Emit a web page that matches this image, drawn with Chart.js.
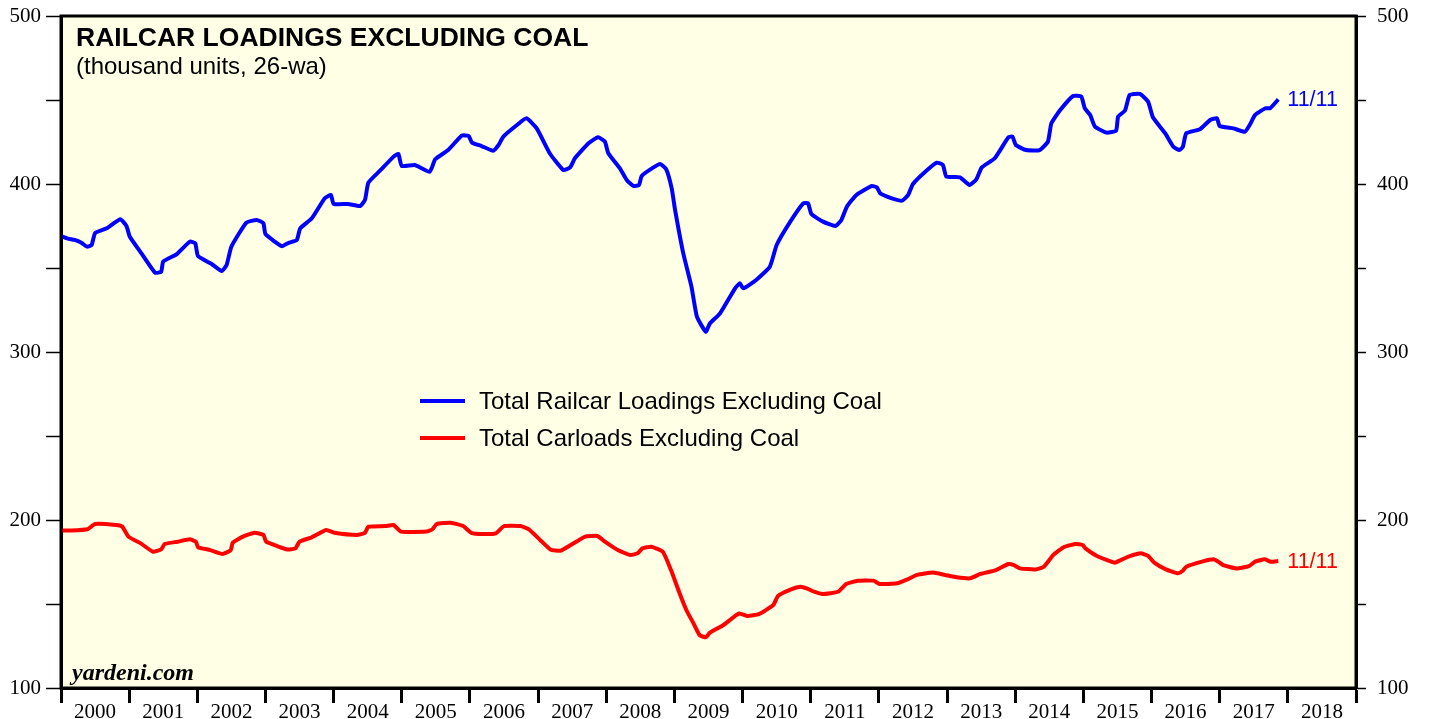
<!DOCTYPE html>
<html>
<head>
<meta charset="utf-8">
<script src="https://cdn.jsdelivr.net/npm/chart.js@4.4.1/dist/chart.umd.min.js"></script>
<style>
  html, body { margin: 0; padding: 0; background: #ffffff; }
  canvas { display: block; }
</style>
</head>
<body>
<canvas id="railChart" width="1429" height="719"></canvas>
<script>
// weekly data (decimal year, thousand units, 26-wa)
const railcarYears = [2000.0, 2000.1, 2000.2, 2000.3, 2000.38, 2000.45, 2000.5, 2000.67, 2000.87, 2000.96,
  2001.01, 2001.18, 2001.38, 2001.47, 2001.5, 2001.7, 2001.89, 2001.97, 2002.01, 2002.21, 2002.36, 2002.43,
  2002.5, 2002.72, 2002.87, 2002.97, 2003.0, 2003.24, 2003.34, 2003.46, 2003.51, 2003.68, 2003.87, 2003.96,
  2004.0, 2004.21, 2004.39, 2004.46, 2004.51, 2004.68, 2004.88, 2004.95, 2005.0, 2005.19, 2005.41, 2005.49,
  2005.68, 2005.88, 2005.98, 2006.03, 2006.17, 2006.34, 2006.42, 2006.49, 2006.69, 2006.83, 2006.98, 2007.17,
  2007.37, 2007.47, 2007.54, 2007.74, 2007.88, 2007.98, 2008.03, 2008.2, 2008.3, 2008.4, 2008.48, 2008.52,
  2008.67, 2008.79, 2008.88, 2008.96, 2009.01, 2009.13, 2009.25, 2009.33, 2009.46, 2009.52, 2009.67, 2009.89,
  2009.96, 2010.01, 2010.2, 2010.4, 2010.5, 2010.7, 2010.89, 2010.96, 2011.01, 2011.18, 2011.36, 2011.45,
  2011.53, 2011.67, 2011.89, 2011.97, 2012.02, 2012.19, 2012.34, 2012.43, 2012.5, 2012.68, 2012.85, 2012.94,
  2012.99, 2013.19, 2013.33, 2013.43, 2013.51, 2013.7, 2013.9, 2013.96, 2014.01, 2014.16, 2014.36, 2014.48,
  2014.53, 2014.66, 2014.85, 2014.97, 2015.02, 2015.1, 2015.17, 2015.34, 2015.48, 2015.51, 2015.61, 2015.68,
  2015.83, 2015.95, 2016.02, 2016.2, 2016.32, 2016.41, 2016.46, 2016.51, 2016.71, 2016.86, 2016.96, 2017.0,
  2017.2, 2017.37, 2017.44, 2017.52, 2017.67, 2017.74, 2017.86];
const railcarValues = [369, 367.5, 366.7, 365, 362.7, 363.7, 370.8, 373.6, 379, 375,
  368.6, 358.7, 347.2, 347.8, 353.8, 358.3, 365.7, 364.7, 357.1, 352.4, 348.2, 351.8,
  362.7, 377, 378.6, 376.6, 370.2, 363, 365, 366.7, 373.6, 379.6, 391.5, 393.5,
  388.1, 388.1, 386.9, 390.5, 400.8, 407.9, 416.3, 417.9, 410.7, 411.3, 407.3, 414.7,
  420.2, 428.8, 428.6, 424.6, 422.6, 419.8, 423.2, 428.2, 435.1, 439.1, 433.1, 418.3,
  408.3, 409.9, 415.3, 424.2, 427.8, 425.2, 418.3, 409.3, 402.4, 398.8, 399.4, 404.8,
  409.3, 411.9, 408.7, 397.4, 384.5, 358.7, 338.9, 321, 312.1, 317, 323, 337.9,
  340.9, 337.9, 342.9, 350.8, 363.7, 377.6, 388.5, 388.5, 382.1, 377.6, 375, 378.6,
  386.5, 393.5, 398.8, 398, 394.4, 391.5, 390.1, 393.5, 400, 407.3, 412.7, 411.3,
  404.4, 404, 399.4, 402.8, 409.9, 415.3, 427.8, 428.2, 423.2, 420.2, 420.2, 425.2,
  436.1, 444, 452.4, 452, 445.1, 441.1, 434.1, 430.6, 431.8, 440.1, 443.7, 453,
  453.6, 449, 439.7, 430.2, 422.2, 420.2, 422.2, 430.2, 432.6, 438.1, 439.1, 434.5,
  433.1, 431.1, 435.1, 441.1, 445.1, 445.1, 450.4];

const carloadYears = [2000.0, 2000.15, 2000.39, 2000.5, 2000.81, 2000.9, 2000.99, 2001.17, 2001.35, 2001.47,
  2001.52, 2001.71, 2001.89, 2001.98, 2002.01, 2002.19, 2002.37, 2002.49, 2002.52, 2002.67, 2002.84, 2002.97,
  2003.01, 2003.17, 2003.32, 2003.44, 2003.5, 2003.68, 2003.89, 2004.01, 2004.34, 2004.46, 2004.51, 2004.76,
  2004.88, 2004.99, 2005.36, 2005.45, 2005.51, 2005.72, 2005.9, 2006.02, 2006.2, 2006.38, 2006.5, 2006.74,
  2006.86, 2007.03, 2007.18, 2007.33, 2007.48, 2007.69, 2007.87, 2007.98, 2008.17, 2008.35, 2008.46, 2008.53,
  2008.66, 2008.83, 2008.95, 2009.07, 2009.18, 2009.28, 2009.37, 2009.46, 2009.52, 2009.72, 2009.95, 2010.07,
  2010.24, 2010.45, 2010.52, 2010.71, 2010.85, 2010.94, 2011.05, 2011.17, 2011.4, 2011.52, 2011.69, 2011.92,
  2012.01, 2012.27, 2012.42, 2012.56, 2012.79, 2012.97, 2013.14, 2013.34, 2013.49, 2013.72, 2013.9, 2013.98,
  2014.07, 2014.3, 2014.42, 2014.56, 2014.71, 2014.88, 2014.99, 2015.03, 2015.2, 2015.46, 2015.55, 2015.69,
  2015.84, 2015.95, 2016.04, 2016.21, 2016.39, 2016.46, 2016.51, 2016.74, 2016.91, 2016.98, 2017.05, 2017.25,
  2017.43, 2017.52, 2017.66, 2017.75, 2017.86];
const carloadValues = [193.7, 193.7, 194.5, 197.6, 197, 196, 190.1, 186.1, 181.1, 182.5,
  185.7, 187.1, 188.5, 187.1, 183.8, 182.1, 179.8, 182.1, 186.5, 190.1, 192.4, 191.1,
  187.1, 184.5, 182.5, 183.1, 187.1, 189.7, 194, 192.4, 191.1, 192.4, 196, 196.4,
  197, 193.1, 193.1, 194.5, 197.6, 198.4, 196.4, 192.4, 191.7, 192.1, 196.4, 196.4,
  194.5, 188.1, 182.5, 181.7, 185.1, 190.1, 190.5, 187.1, 182.1, 179.2, 180.2, 183.1,
  184.1, 181.1, 170.2, 157, 146, 138.5, 131.5, 130.2, 132.9, 137.5, 144.4, 142.9,
  144, 149.4, 154.8, 158.7, 160.3, 159.3, 157.3, 155.9, 157.3, 161.9, 163.9, 163.9,
  161.9, 162.3, 164.7, 167.3, 168.7, 167.3, 165.9, 165.3, 167.9, 170.2, 173.8, 173.2,
  171.2, 170.6, 172.2, 179.2, 183.8, 185.7, 185.1, 183.1, 178.6, 174.6, 176.2, 178.6,
  180.2, 178.6, 174.6, 170.6, 168.3, 169.8, 172.2, 175.2, 176.6, 175.2, 173.2, 171.2,
  172.6, 175.2, 176.6, 175.2, 175.6];

const seriesNames = ["Total Railcar Loadings Excluding Coal", "Total Carloads Excluding Coal"];
const seriesColors = ["#0000ff", "#ff0000"];
const lastLabel = "11/11";
const yearTicks = [];
for (let y = 2000; y <= 2019; y++) yearTicks.push(y);

const toPoints = function(xs, ys) {
  return xs.map(function(x, i) { return { x: x, y: ys[i] }; });
};

const serif = "'Liberation Serif', 'DejaVu Serif', serif";
const sans = "'Liberation Sans', Arial, sans-serif";

// background, frame, titles, legend and end labels
const decorations = {
  id: "decorations",
  beforeDraw: function(chart) {
    const a = chart.chartArea;
    const ctx = chart.ctx;
    ctx.save();
    ctx.fillStyle = "#ffffe6";
    ctx.fillRect(a.left, a.top, a.right - a.left, a.bottom - a.top);
    ctx.restore();
  },
  afterDraw: function(chart) {
    const a = chart.chartArea;
    const ctx = chart.ctx;
    ctx.save();
    ctx.strokeStyle = "#000";
    ctx.lineWidth = 3;
    ctx.strokeRect(a.left, a.top, a.right - a.left, a.bottom - a.top);

    ctx.fillStyle = "#000";
    ctx.textBaseline = "alphabetic";
    ctx.textAlign = "left";
    ctx.font = "bold 26.5px " + sans;
    ctx.fillText("RAILCAR LOADINGS EXCLUDING COAL", 76, 46);
    ctx.font = "24px " + sans;
    ctx.fillText("(thousand units, 26-wa)", 76, 74);
    ctx.font = "italic bold 24px " + serif;
    ctx.fillText("yardeni.com", 72, 680);

    // legend
    ctx.font = "24px " + sans;
    ctx.textBaseline = "middle";
    ctx.lineWidth = 4;
    for (let i = 0; i < seriesNames.length; i++) {
      const ly = 401 + i * 37;
      ctx.strokeStyle = seriesColors[i];
      ctx.beginPath();
      ctx.moveTo(420, ly);
      ctx.lineTo(465, ly);
      ctx.stroke();
      ctx.fillStyle = "#000";
      ctx.fillText(seriesNames[i], 479, ly + 1);
    }

    // end-of-series date labels
    ctx.font = "21.5px " + sans;
    chart.data.datasets.forEach(function(ds, i) {
      const meta = chart.getDatasetMeta(i);
      const last = meta.data[meta.data.length - 1];
      ctx.fillStyle = seriesColors[i];
      ctx.fillText(lastLabel, last.x + 9, last.y + 1);
    });
    ctx.restore();
  }
};

const yTickStyle = {
  stepSize: 50,
  autoSkip: false,
  color: "#000",
  font: { family: serif, size: 21 },
  callback: function(v) { return v % 100 === 0 ? v : ""; }
};

const fitLeft = function(scale) { scale.width = 61; scale.paddingTop = 0; scale.paddingBottom = 0; };
const fitRight = function(scale) { scale.width = 73; scale.paddingTop = 0; scale.paddingBottom = 0; };

const config = {
  type: "line",
  data: {
    datasets: [
      {
        label: seriesNames[0],
        data: toPoints(railcarYears, railcarValues),
        borderColor: seriesColors[0],
        borderWidth: 4,
        pointRadius: 0,
        tension: 0.15,
        yAxisID: "y"
      },
      {
        label: seriesNames[1],
        data: toPoints(carloadYears, carloadValues),
        borderColor: seriesColors[1],
        borderWidth: 4,
        pointRadius: 0,
        tension: 0.15,
        yAxisID: "y"
      }
    ]
  },
  options: {
    responsive: false,
    devicePixelRatio: 1,
    animation: false,
    layout: { padding: { top: 16, left: 0, right: 0, bottom: 0 } },
    plugins: {
      legend: { display: false },
      tooltip: { enabled: false }
    },
    scales: {
      x: {
        type: "linear",
        min: 2000,
        max: 2019,
        afterBuildTicks: function(scale) {
          const t = [];
          yearTicks.forEach(function(y) {
            t.push({ value: y });
            if (y < 2019) t.push({ value: y + 0.5 });
          });
          scale.ticks = t;
        },
        afterFit: function(scale) { scale.height = 31; scale.paddingLeft = 0; scale.paddingRight = 0; },
        ticks: {
          autoSkip: false,
          maxRotation: 0,
          padding: -3,
          color: "#000",
          font: { family: serif, size: 21 },
          callback: function(v) { return Number.isInteger(v) ? "" : String(Math.floor(v)); }
        },
        grid: {
          drawOnChartArea: false,
          tickLength: 15,
          tickWidth: 3,
          tickColor: function(c) {
            return c.tick && Number.isInteger(c.tick.value) ? "#000" : "rgba(0,0,0,0)";
          }
        },
        border: { display: true, color: "#000", width: 3 }
      },
      y: {
        position: "left",
        min: 100,
        max: 500,
        afterFit: fitLeft,
        ticks: Object.assign({ padding: 5 }, yTickStyle),
        grid: { drawOnChartArea: false, tickLength: 15, tickWidth: 1.5, tickColor: "#000" },
        border: { display: true, color: "#000", width: 3 }
      },
      y2: {
        position: "right",
        min: 100,
        max: 500,
        afterFit: fitRight,
        ticks: Object.assign({ padding: 11 }, yTickStyle),
        grid: { drawOnChartArea: false, tickLength: 10, tickWidth: 1.5, tickColor: "#000" },
        border: { display: true, color: "#000", width: 3 }
      }
    }
  },
  plugins: [decorations]
};

var railChart = new Chart(document.getElementById("railChart"), config);
</script>
</body>
</html>
